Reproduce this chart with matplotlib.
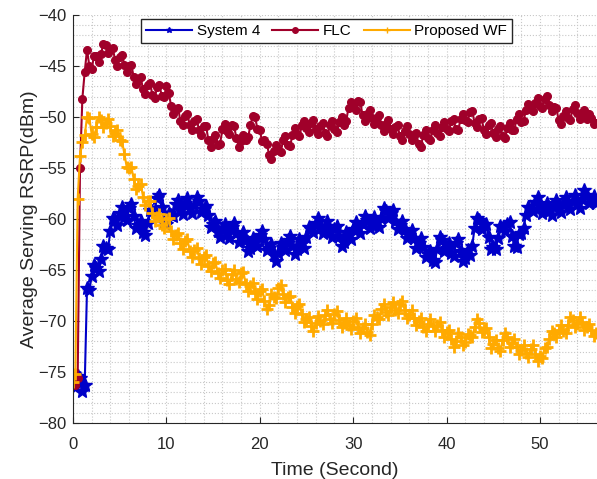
import numpy as np
import matplotlib
matplotlib.use("Agg")
from matplotlib import pyplot as plt
from matplotlib.ticker import MultipleLocator

plt.rcParams['font.family'] = ['Liberation Sans', 'DejaVu Sans']

# sample times (s), one value every quarter second
time = np.arange(0, 56.25, 0.25)

system4 = [
    -76.0, -76.5, -75.4, -75.6, -76.9, -76.3, -66.8, -67.0, -65.6, -64.5,
    -64.8, -65.1, -63.9, -62.6, -62.8, -62.9, -61.2, -59.9, -60.1, -60.6,
    -59.4, -58.8, -59.8, -60.1, -58.9, -58.5, -59.7, -60.9, -60.6, -60.2,
    -61.3, -61.6, -60.4, -59.1, -59.2, -59.2, -57.9, -57.6, -58.8, -60.3,
    -60.5, -59.4, -59.6, -59.7, -58.5, -58.1, -59.1, -59.5, -58.4, -57.9,
    -58.9, -59.4, -58.6, -57.8, -58.2, -59.3, -59.0, -58.7, -59.6, -60.8,
    -60.5, -60.2, -61.2, -61.8, -60.9, -60.5, -61.5, -61.9, -60.8, -60.4,
    -61.4, -62.3, -61.8, -61.3, -62.1, -63.1, -62.8, -61.9, -62.3, -62.6,
    -61.6, -61.2, -62.0, -63.0, -62.8, -62.5, -63.5, -64.1, -63.3, -62.4,
    -62.7, -63.0, -62.1, -61.7, -62.6, -63.4, -62.9, -62.0, -62.4, -62.8,
    -61.8, -60.8, -61.0, -61.3, -60.4, -59.9, -60.9, -61.4, -60.7, -60.2,
    -61.2, -61.8, -61.0, -60.7, -61.7, -62.6, -62.3, -61.3, -61.6, -62.0,
    -61.0, -60.3, -60.9, -61.4, -60.5, -59.7, -60.1, -60.9, -60.6, -59.8,
    -60.3, -60.8, -59.9, -58.9, -59.2, -59.9, -59.4, -59.1, -60.2, -61.0,
    -60.6, -60.2, -61.0, -61.9, -61.6, -61.1, -61.9, -62.8, -62.4, -61.9,
    -62.7, -63.7, -63.4, -63.1, -64.0, -64.2, -62.9, -61.8, -62.1, -63.1,
    -62.8, -62.4, -63.3, -63.6, -62.4, -62.0, -63.1, -64.1, -63.8, -63.0,
    -63.5, -62.6, -60.9, -59.9, -60.1, -61.0, -60.6, -60.5, -61.8, -62.9,
    -62.7, -62.9, -61.9, -60.7, -60.8, -61.2, -60.5, -60.3, -61.7, -62.6,
    -62.7, -61.5, -61.4, -60.9, -59.6, -58.8, -59.0, -59.2, -58.3, -57.8,
    -58.7, -59.4, -58.9, -58.4, -59.2, -59.6, -58.7, -58.1, -58.9, -59.3,
    -58.4, -57.8, -58.6, -59.0, -58.2, -57.6, -58.5, -58.9, -58.0, -57.2,
    -57.6, -58.4, -58.1, -57.7, -58.4,
]

flc = [
    -76.0, -76.3, -75.6, -55.0, -48.2, -45.6, -43.4, -45.0, -45.3, -44.0,
    -44.0, -44.6, -43.8, -42.8, -42.9, -43.7, -43.3, -43.2, -44.4, -45.0,
    -44.1, -43.9, -44.9, -45.6, -45.0, -44.9, -46.1, -46.8, -46.3, -46.1,
    -47.3, -47.7, -46.9, -46.7, -47.8, -48.1, -47.1, -46.9, -47.9, -48.0,
    -47.0, -47.6, -48.9, -49.7, -49.2, -49.1, -50.4, -50.8, -49.9, -49.7,
    -50.8, -51.3, -50.4, -50.2, -51.3, -51.8, -50.9, -50.9, -52.3, -52.9,
    -52.2, -51.8, -52.7, -52.6, -51.2, -50.7, -51.4, -51.7, -50.8, -50.9,
    -52.1, -52.9, -52.4, -51.8, -52.3, -52.0, -50.8, -49.9, -50.0, -51.2,
    -51.3, -52.4, -52.3, -52.6, -53.7, -54.1, -53.3, -52.7, -53.2, -53.4,
    -52.3, -51.9, -52.7, -52.8, -51.8, -51.1, -51.7, -51.9, -50.8, -50.4,
    -51.1, -51.5, -50.6, -50.3, -51.2, -51.7, -50.9, -50.6, -51.6, -51.9,
    -50.8, -50.4, -51.2, -51.5, -50.5, -50.0, -50.8, -50.4, -49.1, -48.5,
    -49.0, -49.3, -48.4, -48.5, -49.8, -50.4, -49.7, -49.3, -50.1, -50.7,
    -50.1, -49.8, -50.8, -51.4, -50.7, -50.3, -51.2, -51.7, -51.0, -50.8,
    -51.9, -52.3, -51.4, -50.9, -51.7, -52.3, -51.8, -51.6, -52.6, -52.9,
    -51.8, -51.3, -52.1, -52.3, -51.3, -50.8, -51.6, -51.9, -51.0, -50.5,
    -51.2, -51.4, -50.4, -50.2, -51.2, -51.3, -50.2, -49.7, -50.3, -50.5,
    -49.5, -49.4, -50.6, -51.0, -50.2, -50.1, -51.3, -51.7, -50.8, -50.6,
    -51.6, -52.0, -51.2, -50.9, -51.9, -52.1, -51.1, -50.6, -51.3, -51.3,
    -50.2, -49.7, -50.5, -50.4, -49.3, -48.7, -49.2, -49.4, -48.6, -48.1,
    -48.9, -49.1, -48.2, -47.9, -48.8, -49.4, -49.0, -49.1, -50.3, -50.7,
    -49.9, -49.4, -50.1, -50.3, -49.2, -48.8, -49.6, -50.2, -49.6, -49.3,
    -50.2, -49.7, -50.1, -50.7, -50.6,
]

proposed_wf = [
    -76.0, -75.2, -58.0, -53.8, -52.5, -51.8, -50.0, -50.1, -51.7, -52.0,
    -51.0, -50.0, -50.3, -51.0, -50.6, -50.2, -50.9, -51.9, -51.6, -51.3,
    -52.3, -52.4, -53.6, -54.9, -55.0, -54.9, -56.1, -57.1, -56.8, -56.6,
    -57.8, -58.6, -58.2, -58.2, -59.4, -60.2, -59.8, -59.5, -60.6, -60.9,
    -60.0, -59.9, -61.2, -62.0, -61.6, -61.4, -62.4, -62.9, -62.2, -62.0,
    -63.1, -63.7, -63.0, -62.8, -63.8, -64.4, -63.7, -63.5, -64.6, -65.1,
    -64.3, -64.2, -65.3, -65.8, -65.0, -64.9, -66.0, -66.4, -65.4, -65.0,
    -65.9, -66.2, -65.3, -65.2, -66.4, -67.1, -66.6, -66.3, -67.3, -67.8,
    -67.1, -66.9, -68.0, -68.8, -68.4, -67.4, -67.6, -67.7, -66.8, -66.5,
    -67.4, -68.1, -67.6, -67.5, -68.6, -69.2, -68.5, -68.3, -69.3, -70.1,
    -69.8, -69.6, -70.5, -71.0, -70.2, -69.5, -70.0, -70.3, -69.4, -68.9,
    -69.8, -70.2, -69.3, -69.0, -69.9, -70.6, -70.2, -69.7, -70.4, -70.8,
    -70.0, -69.7, -70.6, -71.2, -70.7, -70.3, -71.1, -71.4, -70.3, -69.4,
    -69.6, -69.8, -68.8, -68.3, -69.1, -69.4, -68.6, -68.1, -68.9, -69.2,
    -68.3, -68.0, -68.9, -69.7, -69.4, -68.9, -69.7, -70.4, -70.0, -69.7,
    -70.6, -71.0, -70.3, -69.8, -70.5, -71.0, -70.4, -70.1, -70.9, -71.6,
    -71.1, -70.9, -71.8, -72.5, -72.0, -71.2, -71.6, -72.4, -72.1, -71.3,
    -71.4, -71.6, -70.6, -69.8, -70.2, -71.1, -70.9, -70.7, -71.6, -72.6,
    -72.3, -71.9, -72.6, -72.9, -71.9, -71.2, -71.6, -72.5, -72.2, -71.8,
    -72.5, -73.2, -72.8, -72.4, -73.1, -73.5, -72.7, -72.4, -73.2, -73.9,
    -73.4, -73.6, -72.6, -72.5, -71.8, -71.0, -71.2, -71.6, -70.9, -70.4,
    -71.0, -71.2, -70.4, -69.6, -69.9, -70.6, -70.3, -69.6, -70.1, -70.9,
    -70.6, -70.3, -70.9, -71.5, -71.2,
]

fig = plt.figure(figsize=(5.97, 4.79), dpi=100)
ax = fig.add_axes([0.1223, 0.1169, 0.876, 0.8518])

ax.plot(time, system4, color='#0000C8', marker='*', markersize=10, linewidth=1.5, label='System 4')
ax.plot(time, flc, color='#A0002A', marker='o', markersize=5.5, linewidth=1.5, label='FLC')
ax.plot(time, proposed_wf, color='#FFAA00', marker='+', markersize=8, markeredgewidth=2.0,
        linewidth=1.5, label='Proposed WF')

ax.set_xlim(0, 56)
ax.set_ylim(-80, -40)
ax.xaxis.set_major_locator(MultipleLocator(10))
ax.xaxis.set_minor_locator(MultipleLocator(2))
ax.yaxis.set_major_locator(MultipleLocator(5))
ax.yaxis.set_minor_locator(MultipleLocator(1))

ax.grid(which='both', linestyle=':', color='#c8c8c8', linewidth=0.8)
ax.set_axisbelow(True)

for side in ['top', 'right']:
    ax.spines[side].set_visible(False)
for side in ['left', 'bottom']:
    ax.spines[side].set_color('#262626')
ax.tick_params(which='major', direction='in', length=4, labelsize=12, colors='#262626')
ax.tick_params(axis='x', pad=10)
ax.tick_params(axis='y', pad=5)
ax.tick_params(which='minor', length=0)

ax.set_xlabel('Time (Second)', fontsize=14, color='#262626', labelpad=7)
ax.set_ylabel('Average Serving RSRP(dBm)', fontsize=14, color='#262626', labelpad=0)

leg = ax.legend(loc='upper center', bbox_to_anchor=(0.485, 1.01), ncol=3, fontsize=11,
                frameon=True, fancybox=False, edgecolor='#262626', framealpha=1,
                handlelength=3, handletextpad=0.3, columnspacing=0.8, borderpad=0.35)
leg.get_frame().set_linewidth(1.0)
for line in leg.get_lines():
    line.set_linewidth(1.5)
    line.set_markersize(4)
    line.set_markeredgewidth(1.0)

fig.savefig('out.png', dpi=100)
